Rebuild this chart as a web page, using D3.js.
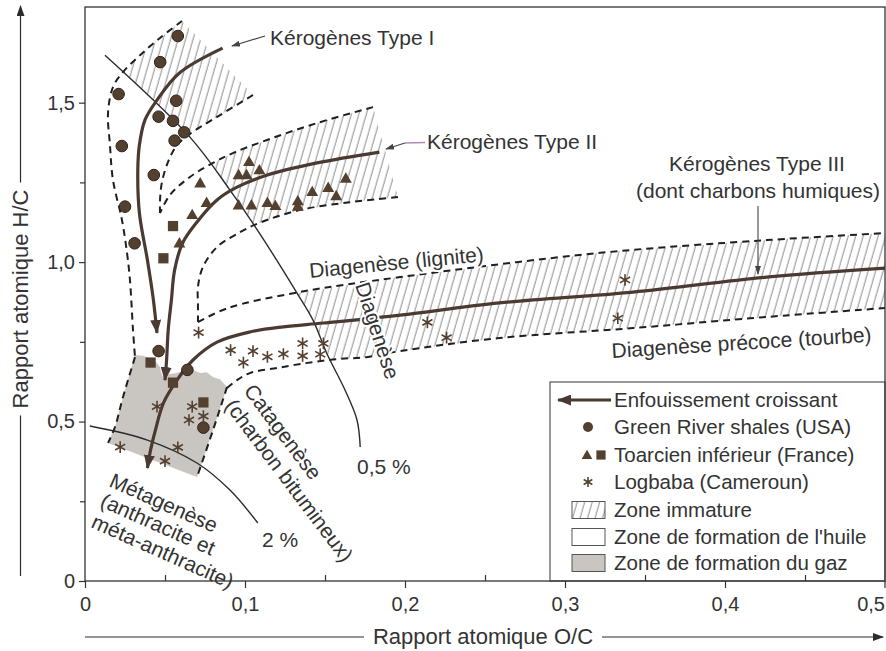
<!DOCTYPE html>
<html lang="fr">
<head>
<meta charset="UTF-8" />
<title>Diagramme de van Krevelen</title>
<script src="https://d3js.org/d3.v7.min.js"></script>
<style>
  body { margin: 0; background: #fff; }
  svg { display: block; font-family: "Liberation Sans", Arial, Helvetica, sans-serif; }
</style>
</head>
<body>
<svg id="chart" width="886" height="651"></svg>
<script>
// ---- data (O/C, H/C) ----
const greenRiver = [[.058,1.709],[.047,1.627],[.021,1.527],[.057,1.506],[.046,1.456],[.055,1.443],
  [.062,1.407],[.056,1.381],[.023,1.364],[.043,1.273],[.025,1.174],[.031,1.059],[.046,.721],
  [.064,.662],[.074,.481]]
const toarcienTri = [[.1025,1.312],[.096,1.271],[.101,1.271],[.109,1.286],[.072,1.245],[.163,1.26],
  [.142,1.218],[.152,1.231],[.157,1.205],[.076,1.184],[.096,1.176],[.104,1.176],[.114,1.184],
  [.119,1.174],[.133,1.189],[.133,1.172],[.067,1.146],[.059,1.057]]
const toarcienSq = [[.055,1.113],[.049,1.012],[.041,.685],[.055,.622],[.074,.56]]
const logbaba = [[.071,.779],[.091,.724],[.105,.721],[.099,.685],[.114,.703],[.124,.712],[.136,.745],
  [.136,.706],[.149,.745],[.147,.711],[.045,.547],[.067,.547],[.065,.505],[.074,.517],[.022,.42],
  [.058,.419],[.05,.376],[.214,.811],[.226,.763],[.333,.824],[.3375,.944]]

// evolution paths (burial)
const typeI = [[.086,1.671],[.059,1.593],[.045,1.508],[.0375,1.446],[.034,1.367],[.033,1.289],
  [.034,1.154],[.039,1.007],[.0425,.891],[.045,.778]]
const typeII = [[.184,1.345],[.145,1.311],[.114,1.273],[.095,1.235],[.0825,1.195],[.07,1.126],
  [.061,1.06],[.056,.975],[.054,.881],[.052,.787],[.051,.693],[.05,.63]]
const typeIII = [[.5,.981],[.426,.953],[.3425,.906],[.259,.872],[.197,.834],[.149,.809],[.124,.797],
  [.103,.781],[.0825,.749],[.0675,.693],[.0575,.63],[.049,.558],[.044,.473],[.041,.411],[.039,.354]]

// iso-reflectance lines
const iso05 = [[.0125,1.649],[.0656,1.392],[.0906,1.226],[.109,1.091],[.1325,.903],[.1425,.818],
  [.151,.715],[.1625,.599],[.17,.505],[.172,.42]]
const iso2 = [[.003,.486],[.039,.442],[.07,.37],[.0906,.285],[.108,.182]]

// dashed zone boundaries
const dashOuterI = [[.0606,1.756],[.0469,1.703],[.0344,1.649],[.02375,1.596],[.0175,1.549],[.0144,1.468],
  [.0156,1.367],[.0175,1.257],[.0231,1.132],[.02625,1.029],[.0281,.944],[.03,.787],[.03125,.702]]
const dashGasLeft = [[.03125,.702],[.02375,.577],[.01875,.483],[.0144,.433]]
const dashInnerI = [[.105,1.524],[.0844,1.461],[.0656,1.402],[.0575,1.367],[.0519,1.314],[.0481,1.251],
  [.0469,1.195],[.0469,1.154]]
const dashUpperII = [[.18,1.486],[.145,1.436],[.11375,1.383],[.0925,1.342],[.08,1.311],[.0656,1.267],
  [.053,1.21],[.0469,1.154]]
const dashLowerII = [[.1956,1.204],[.1656,1.188],[.134,1.163],[.109,1.123],[.0969,1.094],[.0825,1.047],
  [.07375,.985],[.0706,.922],[.0706,.865],[.0706,.812]]
const dashUpperIII = [[.0706,.812],[.0894,.856],[.134,.906],[.197,.953],[.322,1.029],[.426,1.069],[.5,1.091]]
const dashLowerIII = [[.08875,.605],[.095,.63],[.103,.652],[.12,.668],[.139,.684],[.1575,.696],[.176,.702],
  [.197,.721],[.259,.762],[.3425,.793],[.426,.828],[.5,.856]]
const dashGasRight = [[.08875,.608],[.08,.473],[.07,.326]]

// zones
const hatchI = [[.0606,1.756],[.105,1.524],[.0844,1.461],[.0656,1.402],[.02375,1.596],[.0344,1.649],[.0469,1.703]]
const hatchII = [[.18,1.486],[.145,1.436],[.11375,1.383],[.0925,1.342],[.0788,1.308],[.1063,1.113],
  [.109,1.123],[.134,1.163],[.1656,1.188],[.1956,1.204]]
const hatchIII = [[.1331,.903],[.197,.953],[.322,1.029],[.426,1.069],[.5,1.091],[.5,.856],[.426,.828],
  [.3425,.793],[.259,.762],[.197,.721],[.176,.702],[.1575,.696],[.1531,.696],[.1513,.715],[.1425,.818]]
const gasZone = [[.03125,.709],[.036,.706],[.0405,.699],[.0445,.686],[.0469,.671],[.0475,.655],[.04875,.64],
  [.052,.648],[.0575,.652],[.062,.66],[.0675,.662],[.072,.652],[.076,.655],[.08,.64],[.0845,.632],
  [.08875,.608],[.08,.473],[.07,.326],[.0144,.433],[.01875,.483],[.02375,.577]]

const xTicks = [0, .1, .2, .3, .4, .5]
const xMinor = [.05, .15, .25, .35, .45]
const yTicks = [0, .5, 1, 1.5]
const yMinor = [.25, .75, 1.25]
const legendItems = ['Enfouissement croissant', 'Green River shales (USA)', 'Toarcien inférieur (France)',
  'Logbaba (Cameroun)', 'Zone immature', "Zone de formation de l'huile", 'Zone de formation du gaz']

// ---- setup ----
const svg = d3.select('#chart')
const x = d3.scaleLinear().domain([0, .5]).range([85, 885])
const y = d3.scaleLinear().domain([0, 1.8]).range([581, 7])
const brown = '#4a3a31', ink = '#2b2b2b', txt = '#333'
const fmt = d => d === 0 ? '0' : d3.format('.1f')(d).replace('.', ',')

const smooth = d3.line().x(d => x(d[0])).y(d => y(d[1])).curve(d3.curveCatmullRom.alpha(.5))
const poly = d3.line().x(d => x(d[0])).y(d => y(d[1])).curve(d3.curveLinearClosed)

const defs = svg.append('defs')
defs.append('pattern').attr('id', 'hatch').attr('patternUnits', 'userSpaceOnUse')
  .attr('width', 7.2).attr('height', 20).attr('patternTransform', 'rotate(16)')
  .append('line').attr('x1', 2).attr('x2', 2).attr('y1', -1).attr('y2', 21)
  .attr('stroke', '#8d8d8d').attr('stroke-width', 1)
defs.append('clipPath').attr('id', 'plot').append('rect')
  .attr('x', 85).attr('y', 7).attr('width', 800).attr('height', 574)

function arrowMarker(id, w, h, color) {
  defs.append('marker').attr('id', id).attr('markerUnits', 'userSpaceOnUse')
    .attr('viewBox', `0 0 ${w} ${h}`).attr('markerWidth', w).attr('markerHeight', h)
    .attr('refX', w - 1).attr('refY', h / 2).attr('orient', 'auto')
    .append('path').attr('d', `M0,0L${w},${h / 2}L0,${h}Z`).attr('fill', color)
}
arrowMarker('arrowBig', 14, 11, brown)
arrowMarker('arrowSmall', 9, 6, '#444')
arrowMarker('arrowAxis', 11, 8, ink)

const plot = svg.append('g').attr('clip-path', 'url(#plot)')

// zones
plot.selectAll('.hatch').data([hatchI, hatchII, hatchIII]).join('path')
  .attr('d', poly).attr('fill', 'url(#hatch)')
plot.append('path').datum(gasZone).attr('d', poly).attr('fill', '#c9c5c0')

// iso-reflectance lines
plot.selectAll('.iso').data([iso05, iso2]).join('path')
  .attr('d', smooth).attr('fill', 'none').attr('stroke', ink).attr('stroke-width', 1.4)

// dashed boundaries
plot.selectAll('.dash')
  .data([dashOuterI, dashGasLeft, dashInnerI, dashUpperII, dashLowerII, dashUpperIII, dashLowerIII, dashGasRight])
  .join('path').attr('d', smooth).attr('fill', 'none').attr('stroke', '#1f1f1f')
  .attr('stroke-width', 2).attr('stroke-dasharray', '7,5')

// main evolution paths
plot.selectAll('.evo').data([typeI, typeII, typeIII]).join('path')
  .attr('d', smooth).attr('fill', 'none').attr('stroke', brown).attr('stroke-width', 3.2)
  .attr('marker-end', 'url(#arrowBig)')

// samples
const mk = '#54402f'
plot.selectAll('.gr').data(greenRiver).join('circle')
  .attr('cx', d => x(d[0])).attr('cy', d => y(d[1])).attr('r', 5.8)
  .attr('fill', mk).attr('stroke', '#2e231c').attr('stroke-width', 1)
plot.selectAll('.tri').data(toarcienTri).join('path')
  .attr('transform', d => `translate(${x(d[0])},${y(d[1])})`)
  .attr('d', d3.symbol(d3.symbolTriangle, 62)).attr('fill', mk)
plot.selectAll('.sq').data(toarcienSq).join('path')
  .attr('transform', d => `translate(${x(d[0])},${y(d[1])})`)
  .attr('d', d3.symbol(d3.symbolSquare, 105)).attr('fill', mk)
plot.selectAll('.star').data(logbaba).join('path')
  .attr('transform', d => `translate(${x(d[0])},${y(d[1])})`)
  .attr('d', d3.symbol(d3.symbolAsterisk, 95)).attr('fill', 'none')
  .attr('stroke', mk).attr('stroke-width', 1.6)

// ---- annotations ----
const note = (t, px, py, rot, anchor) => svg.append('text')
  .attr('transform', `translate(${px},${py}) rotate(${rot || 0})`)
  .attr('text-anchor', anchor || 'start').attr('fill', txt).attr('font-size', 21).text(t)
const halo = sel => sel.attr('stroke', '#fff').attr('stroke-width', 4).attr('paint-order', 'stroke')

note('Kérogènes Type I', 270, 45)
svg.append('line').attr('x1', 265).attr('y1', 36).attr('x2', 232).attr('y2', 46)
  .attr('stroke', '#444').attr('stroke-width', 1.2).attr('marker-end', 'url(#arrowSmall)')
note('Kérogènes Type II', 427, 149)
svg.append('line').attr('x1', 405).attr('y1', 143).attr('x2', 386).attr('y2', 149)
  .attr('stroke', '#444').attr('stroke-width', 1.2).attr('marker-end', 'url(#arrowSmall)')
svg.append('line').attr('x1', 425).attr('y1', 142.5).attr('x2', 405).attr('y2', 143)
  .attr('stroke', '#b58bb0').attr('stroke-width', 1.4)
note('Kérogènes Type III', 757, 171, 0, 'middle')
note('(dont charbons humiques)', 758, 198, 0, 'middle')
svg.append('line').attr('x1', 758).attr('y1', 206).attr('x2', 758).attr('y2', 274)
  .attr('stroke', '#444').attr('stroke-width', 1.1).attr('marker-end', 'url(#arrowSmall)')

halo(note('Diagenèse (lignite)', 310, 278, -5.5))
halo(note('Diagenèse précoce (tourbe)', 612, 358, -3.6))
halo(note('Diagenèse', 355, 285, 72))
halo(note('Catagenèse', 243, 391, 53))
halo(note('(charbon bitumineux)', 224, 406, 53))
halo(note('Métagenèse', 108, 486, 24))
halo(note('(anthracite et', 99, 506, 24))
halo(note('méta-anthracite)', 90, 527, 24))
halo(note('2 %', 262, 547))
halo(note('0,5 %', 357, 474))

// ---- legend ----
const lg = svg.append('g')
lg.append('rect').attr('x', 550).attr('y', 382).attr('width', 335).attr('height', 199)
  .attr('fill', '#fff').attr('stroke', '#555').attr('stroke-width', 1.2)
const rowY = [400, 427, 455, 482, 510, 537, 563]
lg.selectAll('text').data(legendItems).join('text')
  .attr('x', 614).attr('y', (d, i) => rowY[i] + 7).attr('font-size', 20.5).attr('fill', txt).text(d => d)
lg.append('line').attr('x1', 611).attr('x2', 558).attr('y1', rowY[0]).attr('y2', rowY[0])
  .attr('stroke', brown).attr('stroke-width', 3.2).attr('marker-end', 'url(#arrowBig)')
lg.append('circle').attr('cx', 588).attr('cy', rowY[1]).attr('r', 5).attr('fill', mk)
lg.append('path').attr('transform', `translate(587,${rowY[2] + 1})`).attr('d', d3.symbol(d3.symbolTriangle, 50)).attr('fill', mk)
lg.append('path').attr('transform', `translate(601,${rowY[2]})`).attr('d', d3.symbol(d3.symbolSquare, 85)).attr('fill', mk)
lg.append('path').attr('transform', `translate(588,${rowY[3]})`).attr('d', d3.symbol(d3.symbolAsterisk, 70))
  .attr('fill', 'none').attr('stroke', mk).attr('stroke-width', 1.6)
;['url(#hatch)', '#fff', '#c9c5c0'].forEach((f, i) => {
  lg.append('rect').attr('x', 572).attr('y', rowY[i + 4] - 8.5).attr('width', 33).attr('height', 17)
    .attr('fill', f).attr('stroke', '#555').attr('stroke-width', 1)
})

// ---- frame & axes ----
svg.append('rect').attr('x', 85).attr('y', 7).attr('width', 800).attr('height', 574)
  .attr('fill', 'none').attr('stroke', '#333').attr('stroke-width', 1.3)

const axisFont = '"Liberation Sans Narrow", "Arial Narrow", "Liberation Sans", Arial, sans-serif'
const xAxis = svg.append('g').attr('transform', 'translate(0,581)')
  .call(d3.axisBottom(x).tickValues(xTicks).tickFormat(fmt).tickSize(7).tickPadding(9))
const xAxisMinor = svg.append('g').attr('transform', 'translate(0,581)')
  .call(d3.axisBottom(x).tickValues(xMinor).tickFormat('').tickSize(-6))
const yAxis = svg.append('g').attr('transform', 'translate(85,0)')
  .call(d3.axisLeft(y).tickValues(yTicks).tickFormat(fmt).tickSize(6).tickPadding(4))
const yAxisMinor = svg.append('g').attr('transform', 'translate(85,0)')
  .call(d3.axisLeft(y).tickValues(yMinor).tickFormat('').tickSize(5))
;[xAxis, xAxisMinor, yAxis, yAxisMinor].forEach(a => {
  a.select('.domain').remove()
  a.selectAll('line').attr('stroke', '#333').attr('stroke-width', 1.2)
  a.selectAll('text').attr('font-family', axisFont).attr('font-size', 20).attr('fill', txt)
})
xAxis.selectAll('text').filter(d => d === .5).attr('text-anchor', 'end').attr('x', 0)
xAxis.selectAll('.tick').filter(d => d === .5).select('text').attr('transform', 'translate(0,0)')
  .attr('dx', 0).attr('x', 0)
xAxis.selectAll('.tick').filter(d => d === .5).attr('transform', 'translate(885,0)')

// axis titles with arrows
const xc = 483
const xt = svg.append('text').attr('x', xc).attr('y', 644).attr('text-anchor', 'middle')
  .attr('font-size', 22).attr('fill', txt).text('Rapport atomique O/C')
const xw = xt.node().getComputedTextLength()
svg.append('line').attr('x1', 85).attr('x2', xc - xw / 2 - 9).attr('y1', 637).attr('y2', 637)
  .attr('stroke', ink).attr('stroke-width', 1.2)
svg.append('line').attr('x1', xc + xw / 2 + 9).attr('x2', 883).attr('y1', 637).attr('y2', 637)
  .attr('stroke', ink).attr('stroke-width', 1.2).attr('marker-end', 'url(#arrowAxis)')

const yc = 299
const yt = svg.append('text').attr('transform', `translate(28,${yc}) rotate(-90)`).attr('text-anchor', 'middle')
  .attr('font-size', 22).attr('fill', txt).text('Rapport atomique H/C')
const yw = yt.node().getComputedTextLength()
svg.append('line').attr('x1', 20.5).attr('x2', 20.5).attr('y1', yc - yw / 2 - 7).attr('y2', 6)
  .attr('stroke', ink).attr('stroke-width', 1.2).attr('marker-end', 'url(#arrowAxis)')
svg.append('line').attr('x1', 20.5).attr('x2', 20.5).attr('y1', yc + yw / 2 + 7).attr('y2', 576)
  .attr('stroke', ink).attr('stroke-width', 1.2)
</script>
</body>
</html>
